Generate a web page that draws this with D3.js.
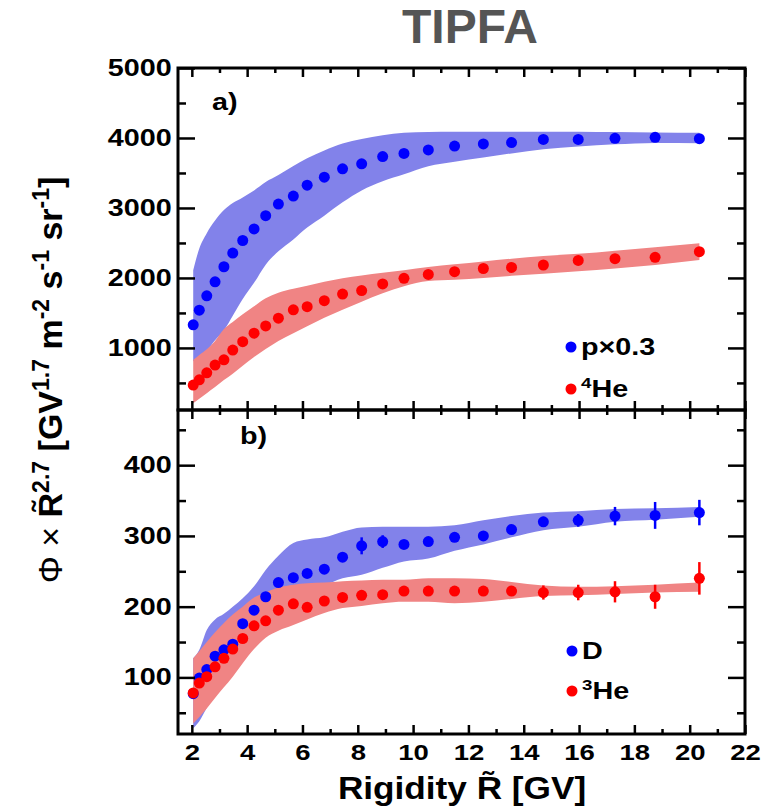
<!DOCTYPE html>
<html>
<head>
<meta charset="utf-8">
<script src="https://cdn.jsdelivr.net/npm/d3@7"></script>
<style>
  body { margin: 0; background: #fff; }
  text { font-family: "Liberation Sans", Arial, sans-serif; font-weight: bold; }
</style>
</head>
<body>
<script>
// rigidity bin centres (GV), same for all four series
var rig = [2.05, 2.27, 2.54, 2.84, 3.16, 3.48, 3.84, 4.25, 4.67, 5.13, 5.67, 6.17, 6.79,
           7.45, 8.14, 8.9, 9.67, 10.55, 11.5, 12.54, 13.56, 14.71, 15.97, 17.3, 18.75, 20.35];

// panel a) protons x0.3 and 4He
var pVal = [1330, 1540, 1745, 1945, 2160, 2355, 2535, 2700, 2890, 3055, 3170, 3325, 3440,
            3560, 3630, 3735, 3780, 3830, 3885, 3915, 3935, 3980, 3980, 3995, 4010, 3990];
var pHi  = [2110, 2420, 2640, 2820, 2970, 3070, 3150, 3250, 3370, 3470, 3600, 3710, 3820,
            3920, 3985, 4040, 4075, 4085, 4090, 4090, 4090, 4090, 4090, 4085, 4080, 4075];
var pLo  = [805, 870, 960, 1110, 1250, 1460, 1700, 1930, 2190, 2380, 2550, 2720, 2890,
            3080, 3250, 3380, 3480, 3595, 3660, 3720, 3780, 3840, 3880, 3910, 3930, 3925];

var he4Val = [470, 545, 645, 755, 830, 970, 1090, 1210, 1315, 1425, 1545, 1590, 1675,
              1770, 1820, 1915, 1995, 2050, 2090, 2135, 2150, 2185, 2250, 2275, 2295, 2375];
var he4Hi  = [830, 900, 980, 1100, 1270, 1370, 1480, 1595, 1710, 1790, 1845, 1890, 1945,
              1995, 2035, 2075, 2110, 2155, 2195, 2235, 2275, 2315, 2345, 2390, 2440, 2495];
var he4Lo  = [210, 275, 353, 440, 540, 632, 745, 870, 985, 1100, 1210, 1310, 1430,
              1545, 1660, 1780, 1880, 1955, 1975, 2000, 2030, 2060, 2095, 2135, 2185, 2255];

// panel b) deuterons and 3He
var dVal = [77, 99, 111, 130, 139, 147, 176, 195, 214, 234, 241, 247, 253,
            270, 286, 292, 288, 292, 298, 300, 309, 320, 322, 328, 329, 333];
var dErr = [2, 2, 2, 2, 2, 2, 3, 3, 3, 3, 3, 4, 4,
            5, 12, 9, 5, 5, 5, 5, 6, 7, 9, 13, 19, 18];
var dHi  = [127, 139, 167, 182, 190, 200, 212, 229, 252, 272, 290, 295, 298,
            306, 312, 313, 313, 313, 315, 322, 328, 333, 335, 338, 339, 341];
var dLo  = [28, 38, 57, 77, 95, 116, 140, 169, 197, 215, 224, 229, 231,
            240, 245, 255, 264, 268, 279, 288, 298, 308, 313, 320, 323, 327];

var he3Val = [78, 92, 101, 115, 127, 140, 155, 173, 180, 195, 204, 199, 208,
              213, 216, 217, 222, 222, 222, 222, 222, 220, 220, 221, 214, 240];
var he3Err = [2, 2, 2, 2, 2, 2, 2, 3, 3, 3, 3, 3, 3,
              3, 4, 4, 4, 4, 4, 4, 5, 10, 11, 15, 17, 23];
var he3Hi  = [127, 137, 150, 164, 177, 189, 200, 213, 220, 227, 231, 233, 234,
              236, 237, 238, 238, 240, 240, 239, 235, 230, 228, 229, 231, 234];
var he3Lo  = [35, 44, 56, 71, 86, 101, 120, 140, 156, 166, 174, 182, 191,
              198, 201, 205, 207, 207, 205, 207, 211, 215, 216, 218, 220, 221];

// axis ticks
var xMajor = [2, 4, 6, 8, 10, 12, 14, 16, 18, 20, 22];
var xMinor = [3, 5, 7, 9, 11, 13, 15, 17, 19, 21];
var yTopMajor = [1000, 2000, 3000, 4000, 5000];
var yTopMinor = [500, 1500, 2500, 3500, 4500];
var yBotMajor = [100, 200, 300, 400];
var yBotMinor = [50, 150, 250, 350, 450];

var width = 778;
var height = 812;
var left = 178, right = 745;
var stretch = 'scale(1.25,1)';

var blue = '#0000ff', red = '#ff0000';
var blueBand = '#8282ea', redBand = '#f08484';

var svg = d3.select('body').append('svg')
    .attr('width', width)
    .attr('height', height);

var xScale = d3.scaleLinear().domain([1.5, 22]).range([left, right]);
var yTop = d3.scaleLinear().domain([113, 5000]).range([410, 68]);
var yBot = d3.scaleLinear().domain([20, 478]).range([734, 410]);

var series = (vals, lo, hi, err) => rig.map((r, i) => ({
    r: r, v: vals[i], lo: lo[i], hi: hi[i], e: err ? err[i] : 0
}));

var band = (g, data, y, color) => {
    var area = d3.area()
        .x(d => xScale(d.r))
        .y0(d => y(d.lo))
        .y1(d => y(d.hi))
        .curve(d3.curveMonotoneX);
    g.append('path')
        .datum(data)
        .attr('d', area)
        .attr('fill', color)
        .attr('stroke', 'none');
};

var points = (g, data, y, color) => {
    g.append('g').selectAll('line')
        .data(data.filter(d => d.e > 0))
        .enter()
        .append('line')
        .attr('x1', d => xScale(d.r))
        .attr('x2', d => xScale(d.r))
        .attr('y1', d => y(d.v - d.e))
        .attr('y2', d => y(d.v + d.e))
        .attr('stroke', color)
        .attr('stroke-width', 2.5);
    g.append('g').selectAll('circle')
        .data(data)
        .enter()
        .append('circle')
        .attr('cx', d => xScale(d.r))
        .attr('cy', d => y(d.v))
        .attr('r', 5.5)
        .attr('fill', color);
};

var frame = (y, yMajor, yMinor, showX) => {
    var top = y.range()[1], bottom = y.range()[0];
    var g = svg.append('g');

    var tick = (axis, tr, vals, size, labels) => {
        var a = g.append('g')
            .attr('transform', tr)
            .call(axis.tickValues(vals).tickSize(-size).tickPadding(labels ? 5 : 0)
                .tickFormat(labels ? d3.format('d') : ''));
        a.select('.domain').remove();
        a.selectAll('line').attr('stroke', '#000').attr('stroke-width', 2.5);
        return a;
    };

    tick(d3.axisTop(xScale), 'translate(0,' + top + ')', xMajor, 9, false);
    tick(d3.axisTop(xScale), 'translate(0,' + top + ')', xMinor, 5, false);
    var bx = tick(d3.axisBottom(xScale), 'translate(0,' + bottom + ')', xMajor, 9, showX);
    tick(d3.axisBottom(xScale), 'translate(0,' + bottom + ')', xMinor, 5, false);
    var ly = tick(d3.axisLeft(y), 'translate(' + left + ',0)', yMajor, 17, true);
    tick(d3.axisLeft(y), 'translate(' + left + ',0)', yMinor, 8, false);
    tick(d3.axisRight(y), 'translate(' + right + ',0)', yMajor, 17, false);
    tick(d3.axisRight(y), 'translate(' + right + ',0)', yMinor, 8, false);

    ly.selectAll('text')
        .attr('font-size', 23)
        .attr('fill', '#000')
        .attr('transform', stretch);
    if (showX) {
        bx.selectAll('text')
            .attr('font-size', 22)
            .attr('fill', '#000')
            .attr('y', 10)
            .attr('transform', stretch);
    }

    g.append('rect')
        .attr('x', left)
        .attr('y', top)
        .attr('width', right - left)
        .attr('height', bottom - top)
        .attr('fill', 'none')
        .attr('stroke', '#000')
        .attr('stroke-width', 3);
};

var legend = (x, y, color, label, sup) => {
    var g = svg.append('g').attr('transform', 'translate(' + x + ',' + y + ')');
    g.append('circle').attr('cx', 0).attr('cy', -8).attr('r', 5.5).attr('fill', color);
    var t = g.append('text')
        .attr('x', 8)
        .attr('font-size', 23)
        .attr('transform', stretch);
    if (sup) {
        t.append('tspan').attr('font-size', 15).attr('dy', -9).text(sup);
        t.append('tspan').attr('dy', 9).text(label);
    } else {
        t.text(label);
    }
};

// panel a)
var ga = svg.append('g');
band(ga, series(pVal, pLo, pHi), yTop, blueBand);
band(ga, series(he4Val, he4Lo, he4Hi), yTop, redBand);
points(ga, series(pVal, pLo, pHi), yTop, blue);
points(ga, series(he4Val, he4Lo, he4Hi), yTop, red);

// panel b)
var gb = svg.append('g');
band(gb, series(dVal, dLo, dHi, dErr), yBot, blueBand);
band(gb, series(he3Val, he3Lo, he3Hi, he3Err), yBot, redBand);
points(gb, series(dVal, dLo, dHi, dErr), yBot, blue);
points(gb, series(he3Val, he3Lo, he3Hi, he3Err), yBot, red);

frame(yTop, yTopMajor, yTopMinor, false);
frame(yBot, yBotMajor, yBotMinor, true);

// panel tags
svg.append('text').attr('font-size', 23)
    .attr('transform', 'translate(212,110) ' + stretch).text('a)');
svg.append('text').attr('font-size', 23)
    .attr('transform', 'translate(240,444) ' + stretch).text('b)');

legend(571, 355, blue, 'p\u00d70.3');
legend(571, 397, red, 'He', '4');
legend(572, 659, blue, 'D');
legend(572, 699, red, 'He', '3');

// title
svg.append('text')
    .attr('x', 470)
    .attr('y', 43)
    .attr('text-anchor', 'middle')
    .attr('font-size', 48)
    .attr('fill', '#555')
    .text('TIPFA');

// x axis title
svg.append('text')
    .attr('transform', 'translate(462,799) scale(1.1,1)')
    .attr('text-anchor', 'middle')
    .attr('font-size', 32)
    .text('Rigidity  R\u0303 [GV]');

// y axis title
var yt = svg.append('text')
    .attr('transform', 'translate(62,380) rotate(-90)')
    .attr('text-anchor', 'middle')
    .attr('font-size', 34);
yt.append('tspan').attr('font-weight', 'normal').text('\u03a6 \u00d7 ');
yt.append('tspan').text('R\u0303');
yt.append('tspan').attr('font-size', 23).attr('dy', -13).text('2.7');
yt.append('tspan').attr('dy', 13).text(' [GV');
yt.append('tspan').attr('font-size', 23).attr('dy', -13).text('1.7');
yt.append('tspan').attr('dy', 13).text(' m');
yt.append('tspan').attr('font-size', 23).attr('dy', -13).text('-2');
yt.append('tspan').attr('dy', 13).text(' s');
yt.append('tspan').attr('font-size', 23).attr('dy', -13).text('-1');
yt.append('tspan').attr('dy', 13).text(' sr');
yt.append('tspan').attr('font-size', 23).attr('dy', -13).text('-1');
yt.append('tspan').attr('dy', 13).text(']');
</script>
</body>
</html>
